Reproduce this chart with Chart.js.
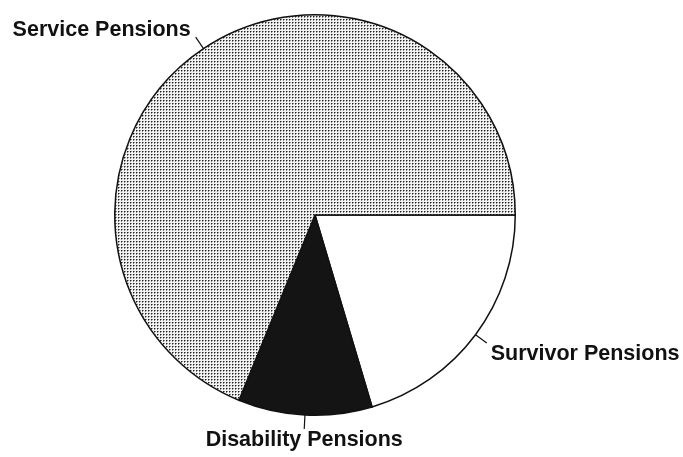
<!DOCTYPE html>
<html>
<head>
<meta charset="utf-8">
<script src="https://cdn.jsdelivr.net/npm/chart.js@4"></script>
<style>
  html, body { margin: 0; padding: 0; background: #fff; }
  canvas { display: block; }
</style>
</head>
<body>
<canvas id="pie" width="683" height="457"></canvas>
<script>
// data (percent of total, clockwise from 3 o'clock)
const categories = ['Survivor Pensions', 'Disability Pensions', 'Service Pensions'];
const shares = [20.4, 10.8, 68.8];

// stippled grey fill like the printed original
function dotPattern() {
  const c = document.createElement('canvas');
  c.width = 3; c.height = 3;
  const g = c.getContext('2d');
  g.fillStyle = '#f2f2f2';
  g.fillRect(0, 0, 3, 3);
  g.fillStyle = '#8a8a8a';
  g.fillRect(2, 1, 1, 1);
  g.fillRect(1, 2, 1, 1);
  g.fillStyle = '#202020';
  g.fillRect(1, 1, 1, 1);
  return g.createPattern(c, 'repeat');
}
const ctx = document.getElementById('pie').getContext('2d');
const fills = ['#ffffff', '#141414', dotPattern()];

// leader lines + labels at each slice's mid angle
const sliceLabels = {
  id: 'sliceLabels',
  afterDatasetsDraw(chart) {
    const g = chart.ctx;
    const arcs = chart.getDatasetMeta(0).data;
    g.save();
    g.strokeStyle = '#111';
    g.lineWidth = 1.2;
    g.fillStyle = '#111';
    g.font = 'bold 21.5px "Liberation Sans", Arial, sans-serif';
    arcs.forEach((arc, i) => {
      const a = (arc.startAngle + arc.endAngle) / 2;
      const r = arc.outerRadius;
      const cos = Math.cos(a), sin = Math.sin(a);
      const x1 = arc.x + r * cos, y1 = arc.y + r * sin;
      const x2 = arc.x + (r + 14) * cos, y2 = arc.y + (r + 14) * sin;
      g.beginPath();
      g.moveTo(x1, y1);
      g.lineTo(x2, y2);
      g.stroke();
      let tx = x2, ty = y2;
      if (cos > 0.3) { g.textAlign = 'left'; tx += 4; }
      else if (cos < -0.3) { g.textAlign = 'right'; tx -= 5; }
      else { g.textAlign = 'center'; }
      if (sin > 0) { g.textBaseline = 'top'; }
      else { g.textBaseline = 'alphabetic'; ty -= 1; }
      g.fillText(categories[i], tx, ty);
    });
    g.restore();
  }
};

new Chart(ctx, {
  type: 'pie',
  data: {
    labels: categories,
    datasets: [{
      data: shares,
      backgroundColor: fills,
      borderColor: '#111',
      borderWidth: 1.5,
      borderJoinStyle: 'miter'
    }]
  },
  options: {
    responsive: false,
    animation: false,
    devicePixelRatio: 1,
    rotation: 90,
    layout: { padding: { top: 14, bottom: 41, left: 113, right: 166 } },
    plugins: {
      legend: { display: false },
      tooltip: { enabled: false }
    }
  },
  plugins: [sliceLabels]
});
</script>
</body>
</html>
